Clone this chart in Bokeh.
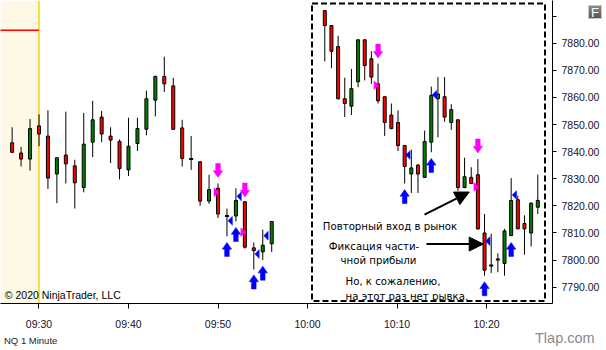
from bokeh.plotting import figure
from bokeh.layouts import column
from bokeh.models import (Range1d, FixedTicker, PrintfTickFormatter, BoxAnnotation,
                          Span, Label, Arrow, NormalHead, ColumnDataSource, Div)
from bokeh.embed import file_html
from bokeh.resources import INLINE

# ---------------- data: NQ 1 Minute (main chart) ----------------
left_time = ["09:27", "09:28", "09:29", "09:30", "09:31", "09:32", "09:33", "09:34", "09:35", "09:36",
             "09:37", "09:38", "09:39", "09:40", "09:41", "09:42", "09:43", "09:44", "09:45", "09:46",
             "09:47", "09:48", "09:49", "09:50", "09:51", "09:52", "09:53", "09:54", "09:55", "09:56"]
left_open = [7843.25, 7839.5, 7837.25, 7849.5, 7845.75, 7831.75, 7838.75, 7834.75, 7826.75, 7843.5,
             7852.75, 7845.75, 7843.75, 7833.25, 7843.0, 7848.25, 7859.0, 7867.75, 7864.25, 7848.75,
             7837.25, 7836.25, 7821.75, 7826.5, 7816.25, 7816.25, 7821.5, 7804.5, 7803.0, 7806.0]
left_high = [7849.0, 7841.75, 7852.0, 7853.75, 7855.25, 7837.75, 7854.75, 7837.0, 7854.25, 7858.75,
             7855.0, 7849.0, 7844.5, 7852.5, 7852.5, 7862.5, 7868.0, 7875.0, 7867.25, 7851.75,
             7845.75, 7836.5, 7831.5, 7828.25, 7819.0, 7826.5, 7821.75, 7806.5, 7811.25, 7814.25]
left_low = [7839.5, 7834.5, 7833.0, 7842.0, 7826.25, 7821.0, 7828.25, 7819.0, 7825.0, 7838.0,
            7843.5, 7835.75, 7829.75, 7831.0, 7840.25, 7846.0, 7853.0, 7862.0, 7848.0, 7834.5,
            7833.25, 7820.0, 7820.75, 7815.5, 7808.75, 7814.25, 7804.25, 7796.5, 7800.0, 7803.0]
left_close = [7839.75, 7837.25, 7848.5, 7846.5, 7830.25, 7837.75, 7835.5, 7828.5, 7842.75, 7851.75,
              7846.5, 7844.25, 7833.75, 7842.0, 7848.5, 7859.5, 7867.75, 7865.0, 7848.25, 7837.5,
              7837.25, 7821.75, 7826.0, 7817.0, 7816.25, 7822.0, 7804.75, 7803.5, 7805.5, 7814.25]

# signals on the main chart
left_entry_time = ["09:50", "09:53"]
left_entry_arrow = [7830.5, 7823.25]
left_entry_fill = [7825.0, 7810.25]
left_exit_time = ["09:51", "09:52", "09:54", "09:55"]
left_exit_fill = [7814.5, 7823.5, 7802.25, 7809.0]
left_exit_arrow = [7806.5, 7812.0, 7794.5, 7797.75]

# ---------------- data: inset chart (dashed box) ----------------
inset_open = [7892.0, 7886.5, 7878.75, 7859.5, 7856.75, 7865.75, 7881.25, 7874.25, 7865.0, 7860.25,
              7853.5, 7850.75, 7842.25, 7831.75, 7835.0, 7830.5, 7843.5, 7859.5, 7860.25, 7850.75,
              7851.75, 7826.75, 7830.5, 7831.5, 7810.0, 7798.0, 7800.25, 7798.75, 7809.0, 7822.25,
              7813.5, 7810.0, 7819.5]
inset_high = [7892.25, 7886.5, 7882.75, 7867.25, 7870.5, 7881.25, 7881.25, 7877.0, 7872.5, 7860.25,
              7857.75, 7855.25, 7842.25, 7840.75, 7835.5, 7847.75, 7864.0, 7867.5, 7867.5, 7857.5,
              7851.75, 7837.75, 7834.25, 7837.25, 7817.0, 7809.75, 7802.5, 7811.5, 7830.25, 7823.75,
              7816.5, 7821.25, 7831.5]
inset_low = [7873.25, 7870.75, 7859.25, 7852.75, 7853.5, 7863.75, 7866.25, 7865.0, 7857.75, 7845.75,
             7848.25, 7840.25, 7828.25, 7824.75, 7824.75, 7830.5, 7839.75, 7845.25, 7851.0, 7848.0,
             7825.5, 7826.5, 7828.0, 7811.25, 7794.25, 7795.25, 7795.5, 7794.25, 7809.0, 7811.5,
             7802.0, 7805.0, 7817.0]
inset_close = [7886.5, 7877.0, 7859.5, 7857.75, 7863.25, 7881.25, 7871.75, 7867.5, 7858.75, 7850.75,
               7848.5, 7842.25, 7834.5, 7834.0, 7831.75, 7843.75, 7860.75, 7861.25, 7852.75, 7855.5,
               7826.75, 7830.75, 7828.25, 7811.5, 7796.25, 7798.0, 7800.25, 7810.75, 7822.0, 7811.5,
               7811.5, 7821.0, 7822.0]

inset_entry_bar = [8, 23]
inset_entry_arrow = [7874.5, 7839.5]
inset_entry_fill = [7864.5, 7827.0]
inset_exit_bar = [12, 16, 24, 28]
inset_exit_fill = [7838.75, 7861.0, 7807.0, 7824.0]
inset_exit_arrow = [7826.0, 7837.5, 7792.0, 7806.5]

x_tick_labels = ["09:30", "09:40", "09:50", "10:00", "10:10", "10:20"]
y_ticks = [7790, 7800, 7810, 7820, 7830, 7840, 7850, 7860, 7870, 7880, 7890]
session_level = 7884.75

# ---------------- figure ----------------
W, H = 606, 350
FW, FH = 552, 303
x_lo, x_hi = -4.30, 57.37
ix_lo, ix_hi = -48.72, 34.21
y_lo, y_hi = 7783.98, 7895.75

p = figure(width=W, height=H, output_backend="svg", toolbar_location=None,
           x_range=Range1d(x_lo, x_hi), y_range=Range1d(y_lo, y_hi),
           y_axis_location="right", min_border_left=0, min_border_top=0,
           min_border_right=W - FW, min_border_bottom=H - FH)
p.extra_x_ranges = {"inset": Range1d(ix_lo, ix_hi)}
p.outline_line_color = None
p.xgrid.visible = False
p.ygrid.visible = False
p.background_fill_color = "white"
p.border_fill_color = "white"

def minutes(t):
    h, m = t.split(":")
    return (int(h) * 60 + int(m)) - (9 * 60 + 30)

xppu_main = FW / (x_hi - x_lo)
xppu_inset = FW / (ix_hi - ix_lo)
yppu = FH / (y_hi - y_lo)

# pre-session shading and session start line
p.add_layout(BoxAnnotation(right=0, fill_color="#FEF9E6", fill_alpha=1.0, line_color=None, level="underlay"))
p.segment(x0=[x_lo - 1], y0=[session_level], x1=[0], y1=[session_level], line_color="#FF0000", line_width=1.5)
p.add_layout(Span(location=0, dimension="height", line_color="#FFD400", line_width=1.5, level="underlay"))

def draw_candles(xs, o, h, l, c, body_px, xppu, range_name):
    w = body_px / xppu
    src = ColumnDataSource(dict(x=xs, o=o, h=h, l=l, c=c))
    p.segment(x0="x", y0="l", x1="x", y1="h", source=src, line_color="black", line_width=1,
              x_range_name=range_name)
    up = [i for i in range(len(xs)) if c[i] > o[i]]
    dn = [i for i in range(len(xs)) if c[i] < o[i]]
    dj = [i for i in range(len(xs)) if c[i] == o[i]]
    p.vbar(x=[xs[i] for i in up], bottom=[o[i] for i in up], top=[c[i] for i in up], width=w,
           fill_color="#008000", line_color="black", line_width=1, x_range_name=range_name)
    p.vbar(x=[xs[i] for i in dn], bottom=[c[i] for i in dn], top=[o[i] for i in dn], width=w,
           fill_color="#FF0000", line_color="black", line_width=1, x_range_name=range_name)
    half = (body_px / 2 + 0.5) / xppu
    p.segment(x0=[xs[i] - half for i in dj], y0=[o[i] for i in dj],
              x1=[xs[i] + half for i in dj], y1=[o[i] for i in dj],
              line_color="black", line_width=2, x_range_name=range_name)

left_x = [minutes(t) for t in left_time]
inset_x = list(range(len(inset_open)))
draw_candles(left_x, left_open, left_high, left_low, left_close, 3, xppu_main, "default")
draw_candles(inset_x, inset_open, inset_high, inset_low, inset_close, 3, xppu_inset, "inset")

# marker shapes in pixel offsets (dx right, dy up), anchor at candle center / price
UP_ARROW = [(0, 0), (4.7, -6.7), (2.3, -6.7), (2.3, -14), (-2.3, -14), (-2.3, -6.7), (-4.7, -6.7)]
DOWN_ARROW = [(dx, -dy) for dx, dy in UP_ARROW]
LEFT_TRI = [(1.0, 0), (5.4, 4.3), (5.4, -4.3)]
RIGHT_TRI = [(1.0, 0), (-4.0, 4.3), (-4.0, -4.3)]

def draw_shapes(xs, ys, shape, color, xppu, range_name):
    px = [[x + dx / xppu for dx, dy in shape] for x in xs]
    py = [[y + dy / yppu for dx, dy in shape] for y in ys]
    p.patches(px, py, fill_color=color, line_color=color, line_width=0.5, x_range_name=range_name)

lex = [minutes(t) for t in left_entry_time]
lxx = [minutes(t) for t in left_exit_time]
draw_shapes(lex, left_entry_arrow, DOWN_ARROW, "#FF00FF", xppu_main, "default")
draw_shapes(lex, left_entry_fill, RIGHT_TRI, "#FF00FF", xppu_main, "default")
draw_shapes(lxx, left_exit_fill, LEFT_TRI, "#0000FF", xppu_main, "default")
draw_shapes(lxx, left_exit_arrow, UP_ARROW, "#0000FF", xppu_main, "default")
draw_shapes(inset_entry_bar, inset_entry_arrow, DOWN_ARROW, "#FF00FF", xppu_inset, "inset")
draw_shapes(inset_entry_bar, inset_entry_fill, RIGHT_TRI, "#FF00FF", xppu_inset, "inset")
draw_shapes(inset_exit_bar, inset_exit_fill, LEFT_TRI, "#0000FF", xppu_inset, "inset")
draw_shapes(inset_exit_bar, inset_exit_arrow, UP_ARROW, "#0000FF", xppu_inset, "inset")

# dashed box around inset
p.add_layout(BoxAnnotation(left=311.5, right=544.5, bottom=FH - 300.5, top=FH - 3,
                           left_units="screen", right_units="screen",
                           bottom_units="screen", top_units="screen",
                           fill_alpha=0, line_color="black", line_alpha=1.0,
                           line_width=2, line_dash="6 3"))

# annotation arrows
p.add_layout(Arrow(end=NormalHead(size=14, fill_color="black", line_color="black"),
                   x_start=14.98, y_start=7816.8, x_end=21.7, y_end=7825.1,
                   line_color="black", line_width=2, x_range_name="inset"))
p.add_layout(Arrow(end=NormalHead(size=14, fill_color="black", line_color="black"),
                   x_start=15.28, y_start=7805.9, x_end=23.8, y_end=7805.9,
                   line_color="black", line_width=2, x_range_name="inset"))

def txt(x, y_px, s, size="10.2px", color="black", font="DejaVu Sans"):
    p.add_layout(Label(x=x, y=FH - y_px, x_units="screen", y_units="screen", text=s,
                       text_font=font, text_font_size=size, text_color=color,
                       text_baseline="alphabetic"))

txt(322.3, 226, "Повторный вход в рынок")
txt(328.3, 245.5, "Фиксация части-")
txt(340, 260, "чной прибыли")
txt(345, 281, "Но, к сожалению,")
txt(345, 295.5, "на этот раз нет рывка.")
txt(4.3, 294, "© 2020 NinjaTrader, LLC", size="10.5px", font="Liberation Sans")

# axes
xa = p.xaxis[0]
xa.ticker = FixedTicker(ticks=[0, 10, 20, 30, 40, 50])
xa.major_label_overrides = {k: v for k, v in zip([0, 10, 20, 30, 40, 50], x_tick_labels)}
xa.minor_tick_line_color = None
xa.major_tick_in = 0
xa.major_tick_out = 5
xa.major_label_standoff = 9
xa.axis_line_color = "black"
xa.major_tick_line_color = "black"
xa.major_label_text_font = "Liberation Sans"
xa.major_label_text_font_size = "10.5px"
xa.major_label_text_color = "#141428"

ya = p.yaxis[0]
ya.ticker = FixedTicker(ticks=y_ticks)
ya.formatter = PrintfTickFormatter(format="%.2f")
ya.major_label_overrides = {7890: ""}
ya.minor_tick_line_color = None
ya.major_tick_in = 0
ya.major_tick_out = 4
ya.major_label_standoff = 5
ya.axis_line_color = "black"
ya.major_tick_line_color = "black"
ya.major_label_text_font = "Liberation Sans"
ya.major_label_text_font_size = "10.5px"
ya.major_label_text_color = "#141428"

# texts outside the plotting frame
def abs_div(text, left, top, css):
    return Div(text=text, styles={"position": "absolute", "left": f"{left}px", "top": f"{top}px",
                                  "margin": "0", "padding": "0", "line-height": "1",
                                  "white-space": "nowrap", **css})

d_nq = abs_div("NQ 1 Minute", 4, 336, {"font-family": "Liberation Sans", "font-size": "9.5px",
                                        "color": "#222222"})
d_tlap = abs_div("Tlap.com", 535, 330.5, {"font-family": "Liberation Sans", "font-size": "14.5px",
                                           "color": "#8a8a8a"})
d_f = abs_div("F", 588, 5, {"font-family": "Liberation Sans", "font-size": "13px", "color": "white",
                            "width": "14px", "height": "14px", "line-height": "14px",
                            "text-align": "center", "border": "1px solid #c8c8c8",
                            "background": "linear-gradient(#8c8c8c, #555555)"})

layout = column(p, d_nq, d_tlap, d_f, styles={"position": "relative"})
open("out.html", "w").write(file_html(layout, INLINE))
